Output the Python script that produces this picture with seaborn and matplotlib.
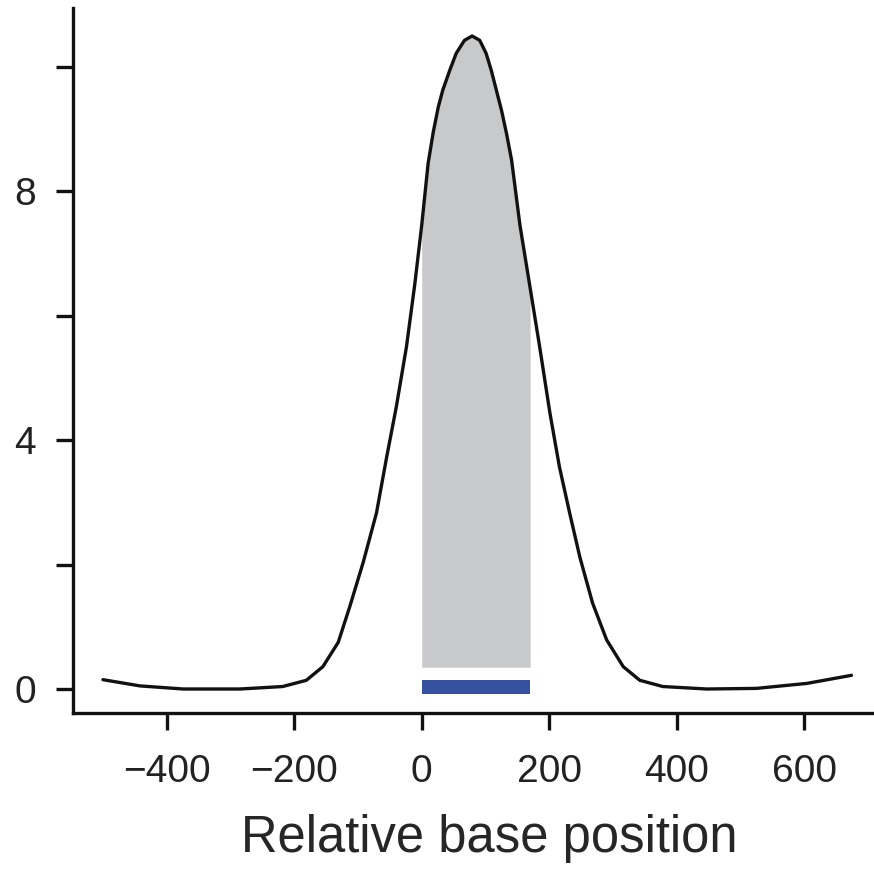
import numpy as np
import pandas as pd
import seaborn as sns
import matplotlib.pyplot as plt

sns.set_theme(style="ticks")
plt.rcParams['font.family'] = ['Liberation Sans', 'DejaVu Sans']

# profile
position = [-500, -442, -374, -285, -218, -181, -155, -131, -113, -92, -71, -55, -40, -24,
            -11, 0, 10, 18, 26, 33, 44, 54, 67, 79, 91, 101, 109, 117, 125, 133, 141, 154,
            170, 185, 201, 216, 232, 248, 268, 290, 316, 342, 378, 447, 525, 604, 674]
signal = [0.15, 0.05, 0.0, 0.0, 0.04, 0.14, 0.36, 0.75, 1.32, 2.03, 2.83, 3.73, 4.53, 5.50,
          6.50, 7.46, 8.45, 8.95, 9.36, 9.63, 9.95, 10.22, 10.43, 10.50, 10.43, 10.22, 9.95,
          9.63, 9.31, 8.93, 8.50, 7.46, 6.45, 5.50, 4.44, 3.57, 2.83, 2.12, 1.38, 0.79,
          0.36, 0.14, 0.04, 0.0, 0.01, 0.09, 0.22]
region_start = 0
region_end = 170
region_floor = 0.35
bar_center = 0.03
bar_height = 0.22

df = pd.DataFrame({'pos': position, 'val': signal})

fig = plt.figure(figsize=(8.74, 8.69), dpi=100)
# axes run a little past the right edge of the figure, as in the reference
ax = fig.add_axes([0.0835, 0.1795, 0.952, 0.8113])

sub = df[(df['pos'] >= region_start) & (df['pos'] <= region_end)]
ax.fill_between(sub['pos'], region_floor, sub['val'], color='#c8c9cb', linewidth=0)
ax.barh(bar_center, region_end - region_start, left=region_start, height=bar_height,
        color='#3650a0', linewidth=0)

sns.lineplot(data=df, x='pos', y='val', color='#111111', linewidth=2.4, ax=ax,
             solid_joinstyle='round', solid_capstyle='round')

ax.set_xlim(-547, 758)
ax.set_ylim(-0.386, 10.95)
ax.set_xticks([-400, -200, 0, 200, 400, 600])
ax.set_xticklabels(['\u2212400', '\u2212200', '0', '200', '400', '600'])
ax.set_yticks([0, 2, 4, 6, 8, 10])
ax.set_yticklabels(['0', '', '4', '', '8', ''])
ax.set_xlabel('Relative base position', fontsize=36.5, labelpad=17)
ax.set_ylabel('')

for s in ['top', 'right']:
    ax.spines[s].set_visible(False)
for s in ['left', 'bottom']:
    ax.spines[s].set_linewidth(2.4)
    ax.spines[s].set_color('#111111')
ax.tick_params(axis='both', width=2.4, length=12.5, colors='#111111', labelsize=28,
               labelcolor='#222222')
ax.tick_params(axis='y', pad=14)
ax.tick_params(axis='x', pad=17)

fig.savefig('out.png', dpi=100)
